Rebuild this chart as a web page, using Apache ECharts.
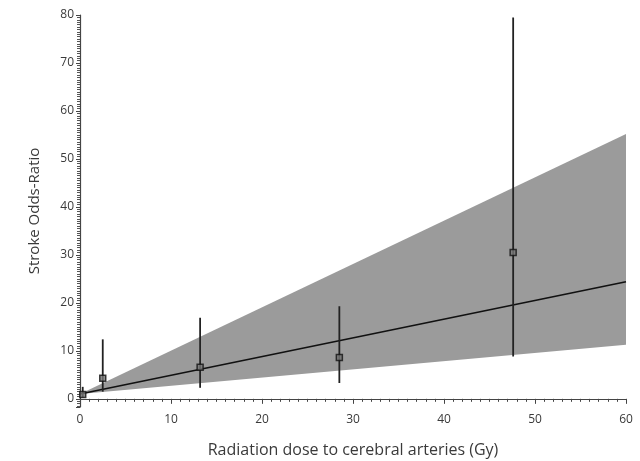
<!DOCTYPE html>
<html>
<head>
<meta charset="utf-8">
<script src="https://cdn.jsdelivr.net/npm/echarts@6/dist/echarts.min.js"></script>
<style>html,body{margin:0;padding:0;background:#fff}#c{width:640px;height:461px}</style>
</head>
<body>
<div id="c"></div>
<script>
// Observed points (dose Gy, odds ratio) with CI
const pointDose = [0.3, 2.5, 13.2, 28.5, 47.6];
const pointOR   = [0.9, 4.3, 6.6, 8.6, 30.5];
const ciLow     = [0.3, 1.5, 2.3, 3.3, 8.8];
const ciHigh    = [2.5, 12.4, 16.9, 19.3, 79.5];
// Linear fit and confidence band
const fitDose   = [0, 60];
const fitOR     = [1, 24.4];
const bandLower = [1, 11.3];
const bandUpper = [1, 55.2];
const xTicks = [0, 10, 20, 30, 40, 50, 60];
const yTicks = [0, 10, 20, 30, 40, 50, 60, 70, 80];

const textColor = '#3a3a3a';
const font = '"Open Sans", "DejaVu Sans", sans-serif';

const chart = echarts.init(document.getElementById('c'), null, {renderer: 'canvas'});

const bandPoly = fitDose.map((d, i) => [d, bandLower[i], bandUpper[i]]);

chart.setOption({
  animation: false,
  backgroundColor: '#fff',
  grid: {left: 80, right: 14, top: 15, bottom: 54, containLabel: false, outerBoundsMode: 'none'},
  xAxis: {
    type: 'value', min: xTicks[0], max: xTicks[xTicks.length - 1], interval: 10,
    name: 'Radiation dose to cerebral arteries (Gy)',
    nameLocation: 'middle', nameGap: 35,
    nameTextStyle: {fontFamily: font, fontSize: 16, color: textColor},
    axisLine: {lineStyle: {color: '#444', width: 1.2}},
    axisTick: {show: true, inside: false, length: 5, lineStyle: {color: '#444'}},
    minorTick: {show: true, splitNumber: 10, length: 3, lineStyle: {color: '#444'}},
    splitLine: {show: false},
    axisLabel: {fontFamily: font, fontSize: 12, color: textColor, margin: 7}
  },
  yAxis: {
    type: 'value', min: -1.7, max: yTicks[yTicks.length - 1], splitNumber: 8,
    name: 'Stroke Odds-Ratio',
    nameLocation: 'middle', nameGap: 38,
    nameTextStyle: {fontFamily: font, fontSize: 15, color: textColor},
    axisLine: {lineStyle: {color: '#444', width: 1.2}},
    axisTick: {show: true, inside: false, length: 4, lineStyle: {color: '#444'}},
    minorTick: {show: true, splitNumber: 20, length: 3, lineStyle: {color: '#555'}},
    splitLine: {show: false},
    axisLabel: {
      fontFamily: font, fontSize: 12, color: textColor, margin: 6,
      formatter: v => (yTicks.indexOf(Math.round(v * 1000) / 1000) >= 0 ? String(v) : '')
    }
  },
  series: [
    {
      type: 'custom', z: 1,
      data: bandPoly,
      renderItem: function (params, api) {
        if (params.dataIndex !== 0) return null;
        const upper = bandPoly.map(p => api.coord([p[0], p[2]]));
        const lower = bandPoly.slice().reverse().map(p => api.coord([p[0], p[1]]));
        return {type: 'polygon', shape: {points: upper.concat(lower)}, style: {fill: '#9b9b9b'}};
      }
    },
    {
      type: 'line', z: 3, symbol: 'none',
      data: fitDose.map((d, i) => [d, fitOR[i]]),
      lineStyle: {color: '#111', width: 1.6}
    },
    {
      type: 'custom', z: 4,
      data: pointDose.map((d, i) => [d, ciLow[i], ciHigh[i]]),
      renderItem: function (params, api) {
        const a = api.coord([api.value(0), api.value(1)]);
        const b = api.coord([api.value(0), api.value(2)]);
        return {type: 'line', shape: {x1: a[0], y1: a[1], x2: b[0], y2: b[1]}, style: {stroke: '#222', lineWidth: 1.8}};
      }
    },
    {
      type: 'scatter', z: 5, symbol: 'rect', symbolSize: 6,
      data: pointDose.map((d, i) => [d, pointOR[i]]),
      itemStyle: {color: '#777', borderColor: '#111', borderWidth: 1.5}
    }
  ]
});
</script>
</body>
</html>
